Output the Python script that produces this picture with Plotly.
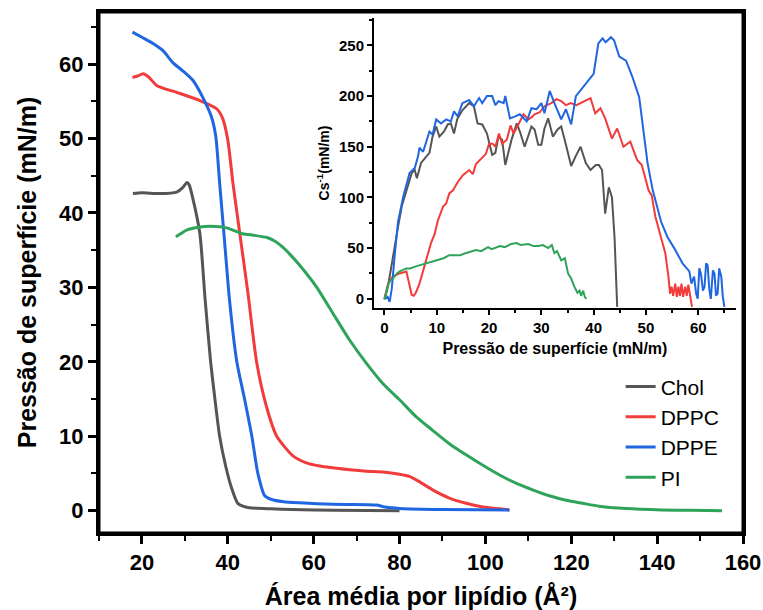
import plotly.graph_objects as go

FONT = "Liberation Sans, Arial, Helvetica, sans-serif"

# ---------------- axis ranges ----------------
X_RANGE = [10, 160]
Y_RANGE = [-3, 67]

# ---------------- main isotherms (area vs pressure) ----------------
chol_area = [17.9, 20, 24, 28.1, 29.5, 30.5, 31.0, 31.8, 33.5, 34.7, 36.0, 37.0, 38.1, 39.5, 40.9, 42.3, 43.5, 45, 50, 55, 65, 80]
chol_pi = [42.6, 42.7, 42.6, 42.8, 43.4, 44.1, 43.8, 42.1, 37.2, 28.5, 20, 15, 10, 6, 3, 1, 0.6, 0.4, 0.25, 0.15, 0.05, 0.0]

dppe_area = [17.8, 20, 22.5, 24.9, 27.2, 29.5, 31.9, 34.2, 36.2, 37.2, 38.1, 39.1, 40.4, 42.1, 43.9, 45.6, 47.0, 48.6, 50.2, 53, 56.7, 64.4, 72.3, 74.6, 76.9, 80, 90, 105.6]
dppe_pi = [64.3, 63.6, 62.8, 61.8, 60.2, 59.1, 57.8, 55.5, 52.9, 50.3, 44.0, 37.2, 28.3, 20, 15, 10, 5, 2, 1.5, 1.2, 1.05, 0.85, 0.8, 0.75, 0.45, 0.3, 0.15, 0.1]

dppc_area = [17.8, 19, 20.3, 21.5, 23.5, 28.1, 33.5, 37.4, 38.8, 40.0, 41.2, 42.8, 44.7, 46.7, 49, 51.4, 55.1, 58, 61.4, 68.4, 72.3, 76.1, 80, 82.3, 84.6, 87.7, 91.6, 95.5, 99.4, 103.3, 105.6]
dppc_pi = [58.2, 58.4, 58.7, 58.3, 57.1, 56.2, 55.1, 54.0, 52.7, 49.8, 44, 37.2, 29.2, 20, 14, 10, 7.4, 6.5, 6.0, 5.5, 5.3, 5.2, 4.9, 4.6, 3.9, 2.8, 1.7, 1.0, 0.5, 0.25, 0.1]

pi_area = [27.9, 29, 30.4, 33.5, 36, 39.7, 43.5, 46, 49.1, 51, 52.8, 54.7, 56.7, 60.6, 64.5, 68.4, 72.3, 76.1, 80.0, 83.9, 87.7, 91.6, 95.5, 99.4, 103.3, 107.1, 111.0, 114.9, 118.8, 122.6, 126.5, 131, 136, 141, 148, 155.1]
pi_pi = [36.8, 37.2, 37.7, 38.1, 38.2, 38.0, 37.2, 37.0, 36.7, 36.2, 35.4, 34.3, 33.0, 30.1, 26.5, 22.9, 19.8, 17.1, 14.9, 12.6, 10.8, 9.0, 7.5, 6.1, 4.8, 3.7, 2.8, 2.0, 1.4, 1.0, 0.6, 0.35, 0.2, 0.1, 0.05, 0.0]

# ---------------- inset: compressibility modulus vs pressure ----------------
chol_p = [0, 0.5, 1.0, 1.5, 2.0, 2.6, 3.3, 4.2, 5.2, 5.8, 6.2, 7.0, 8.0, 8.6, 9.2, 9.9, 10.5, 11.4, 12.1, 12.7, 13.3, 13.9, 14.9, 16.2, 17.1, 17.8, 18.7, 19.6, 20.6, 21.2, 21.8, 22.5, 23.1, 23.7, 24.3, 25.3, 25.9, 26.8, 27.5, 28.1, 28.7, 29.4, 30.0, 30.6, 31.3, 32.2, 33.1, 33.8, 34.7, 35.7, 36.6, 37.5, 38.5, 39.4, 40.4, 41.0, 41.6, 42.2, 42.9, 43.5, 44.0, 44.2, 44.5]
chol_cs = [0, 8, 22, 38, 55, 71, 91, 107, 124, 127, 119, 134, 140, 144, 160, 170, 160, 165, 172, 173, 163, 177, 186, 193, 190, 173, 172, 163, 142, 144, 160, 157, 132, 144, 157, 173, 165, 150, 160, 170, 167, 152, 152, 168, 178, 160, 167, 170, 152, 131, 141, 150, 134, 127, 132, 132, 127, 84, 110, 100, 60, 35, -8]

dppc_p = [0, 0.7, 1.6, 2.9, 4.2, 4.8, 5.2, 5.6, 6.0, 6.7, 8.0, 8.9, 9.6, 10.2, 11.2, 11.8, 12.4, 13.1, 14.0, 15.0, 16.2, 16.9, 17.5, 18.7, 19.4, 20.0, 20.7, 21.2, 21.9, 22.5, 23.4, 24.1, 24.7, 25.7, 26.6, 27.5, 28.1, 28.7, 29.7, 30.6, 31.9, 32.9, 33.8, 34.7, 35.6, 36.7, 38.1, 39.4, 40.3, 41.3, 42.2, 43.5, 44.5, 45.7, 47.0, 48.3, 49.2, 50.5, 51.1, 51.8, 52.7, 53.7, 54.3, 54.6, 54.9, 55.2, 55.6, 55.9, 56.2, 56.5, 56.8, 57.1, 57.5, 57.8, 58.1, 58.5, 58.8]
dppc_cs = [0, 15, 22, 25, 27, 12, 4, 3, 6, 15, 38, 55, 64, 77, 91, 94, 104, 107, 115, 122, 127, 123, 133, 140, 143, 153, 153, 150, 163, 153, 157, 171, 163, 173, 182, 177, 179, 182, 184, 190, 193, 197, 195, 191, 193, 191, 195, 198, 183, 188, 178, 158, 168, 150, 155, 137, 132, 107, 102, 81, 64, 45, 22, 5, 12, 3, 15, 2, 12, 3, 15, 2, 12, 3, 14, 0, -8]

dppe_p = [0.1, 0.6, 1.0, 1.4, 2.0, 2.6, 3.6, 4.8, 5.8, 6.4, 6.7, 7.4, 8.6, 9.2, 9.9, 10.8, 11.8, 12.7, 13.3, 14.0, 14.9, 16.2, 17.1, 18.1, 18.7, 19.6, 20.6, 21.2, 21.8, 22.8, 23.1, 24.0, 25.0, 25.9, 27.2, 28.1, 29.1, 30.0, 30.6, 31.6, 32.5, 33.8, 34.7, 35.7, 36.6, 37.5, 38.8, 40.0, 40.9, 41.7, 42.3, 43.3, 43.9, 44.9, 46.2, 47.4, 48.7, 49.3, 50.3, 51.3, 52.2, 52.9, 54.1, 55.4, 57.0, 58.3, 58.7, 59.2, 59.6, 59.9, 60.2, 60.5, 60.9, 61.2, 61.5, 61.8, 62.1, 62.4, 62.8, 63.1, 63.4, 63.7, 64.0, 64.4, 64.7, 65.0]
dppe_cs = [0, 2, -3, 10, 45, 76, 101, 124, 129, 140, 149, 145, 165, 162, 177, 173, 177, 175, 185, 180, 193, 196, 190, 198, 193, 200, 200, 191, 195, 193, 200, 178, 180, 182, 175, 188, 187, 193, 183, 205, 193, 177, 187, 172, 200, 206, 215, 222, 252, 257, 253, 258, 255, 239, 235, 219, 199, 176, 134, 107, 88, 76, 61, 50, 35, 27, 15, 22, 5, 0, 30, 25, 8, 12, 35, 33, 10, 0, 28, 25, 3, 5, 30, 22, 2, -8]

pi_p = [0, 0.3, 0.6, 1.1, 1.6, 2.4, 2.9, 4.2, 4.9, 6.0, 8.0, 9.9, 11.3, 12.4, 14.5, 15.5, 17.5, 18.5, 19.8, 20.5, 22.1, 23.0, 24.2, 25.3, 26.0, 27.5, 28.5, 29.4, 30.3, 31.3, 32.0, 32.5, 33.0, 33.8, 34.5, 35.1, 35.7, 36.3, 36.9, 37.3, 37.6, 38.0, 38.3, 38.6]
pi_cs = [-1, 6, 12, 18, 20, 25, 27, 30, 30, 32, 35, 38, 40, 43, 43, 45, 48, 47, 51, 49, 52, 51, 54, 55, 53, 54, 52, 52, 53, 50, 53, 45, 47, 38, 40, 25, 20, 12, 6, 8, 3, 8, 2, 0]

names = ["Chol", "DPPC", "DPPE", "PI"]
colors = ["#555555", "#f23b3b", "#1f66e0", "#2ea35a"]

main_x = [chol_area, dppc_area, dppe_area, pi_area]
main_y = [chol_pi, dppc_pi, dppe_pi, pi_pi]
ins_x = [chol_p, dppc_p, dppe_p, pi_p]
ins_y = [chol_cs, dppc_cs, dppe_cs, pi_cs]

fig = go.Figure()

# plot frame traced along the axis range limits
fig.add_trace(go.Scatter(
    x=[X_RANGE[0], X_RANGE[1], X_RANGE[1], X_RANGE[0], X_RANGE[0]],
    y=[Y_RANGE[0], Y_RANGE[0], Y_RANGE[1], Y_RANGE[1], Y_RANGE[0]],
    mode="lines", line=dict(color="#000000", width=3), cliponaxis=False,
    showlegend=False, hoverinfo="skip", xaxis="x", yaxis="y"))

for n, c, x, y in zip(names, colors, main_x, main_y):
    fig.add_trace(go.Scatter(x=x, y=y, name=n, mode="lines",
                             line=dict(color=c, width=3, shape="spline", smoothing=0.6),
                             xaxis="x", yaxis="y"))
for n, c, x, y in zip(names, colors, ins_x, ins_y):
    fig.add_trace(go.Scatter(x=x, y=y, name=n, mode="lines", showlegend=False,
                             line=dict(color=c, width=2),
                             xaxis="x2", yaxis="y2"))


def bfont(size):
    return dict(family=FONT, size=size, color="#000000", weight="bold")


fig.update_layout(
    template="none",
    width=763, height=610,
    margin=dict(l=99, r=20, t=12, b=77, autoexpand=False),
    paper_bgcolor="white", plot_bgcolor="white",
    font=dict(family=FONT, color="#000000"),
    showlegend=True,
    legend=dict(x=0.81, y=0.32, xanchor="left", yanchor="top",
                bgcolor="rgba(0,0,0,0)", borderwidth=0,
                font=dict(family=FONT, size=21, color="#000000"),
                tracegroupgap=0),
    xaxis=dict(range=X_RANGE, dtick=20, tick0=0, showgrid=False, zeroline=False,
               automargin=False, showline=True, linewidth=3, linecolor="#000000", mirror=True,
               ticks="outside", ticklen=8, tickwidth=3, tickcolor="#000000",
               minor=dict(dtick=10, ticks="outside", ticklen=5, tickwidth=2, tickcolor="#000000", showgrid=False),
               tickfont=bfont(22), tickprefix="<b>", ticksuffix="</b>",
               title=dict(text="<b>Área média por lipídio (Å²)</b>", font=bfont(25), standoff=14)),
    yaxis=dict(range=Y_RANGE, dtick=10, tick0=0, showgrid=False, zeroline=False,
               automargin=False, showline=True, linewidth=3, linecolor="#000000", mirror=True,
               ticks="outside", ticklen=8, tickwidth=3, tickcolor="#000000",
               minor=dict(dtick=5, ticks="outside", ticklen=5, tickwidth=2, tickcolor="#000000", showgrid=False),
               tickfont=bfont(22), tickprefix="<b>", ticksuffix="</b>",
               title=dict(text="<b>Pressão de superfície (mN/m)</b>", font=bfont(25), standoff=16)),
    xaxis2=dict(domain=[0.427, 0.989], anchor="y2", range=[-2, 67.2], dtick=10, tick0=0,
                automargin=False,
                showgrid=False, zeroline=False, showline=True, linewidth=2, linecolor="#000000",
                ticks="outside", ticklen=5, tickwidth=2, tickcolor="#000000",
                minor=dict(dtick=5, ticks="outside", ticklen=3, tickwidth=1.5, tickcolor="#000000", showgrid=False),
                tickfont=bfont(15), tickprefix="<b>", ticksuffix="</b>",
                title=dict(text="<b>Pressão de superfície (mN/m)</b>", font=bfont(16), standoff=8)),
    yaxis2=dict(domain=[0.432, 0.9885], anchor="x2", range=[-9, 277], dtick=50, tick0=0,
                automargin=False,
                showgrid=False, zeroline=False, showline=True, linewidth=2, linecolor="#000000",
                ticks="outside", ticklen=5, tickwidth=2, tickcolor="#000000",
                minor=dict(dtick=25, ticks="outside", ticklen=3, tickwidth=1.5, tickcolor="#000000", showgrid=False),
                tickfont=bfont(15), tickprefix="<b>", ticksuffix="</b>",
                title=dict(text="<b>Cs<sup>-1</sup>(mN/m)</b>", font=bfont(14), standoff=6)),
)

fig.write_html("out.html",
               config={"displayModeBar": False},
               post_script="document.body.style.margin='0';document.body.style.overflow='hidden';")
